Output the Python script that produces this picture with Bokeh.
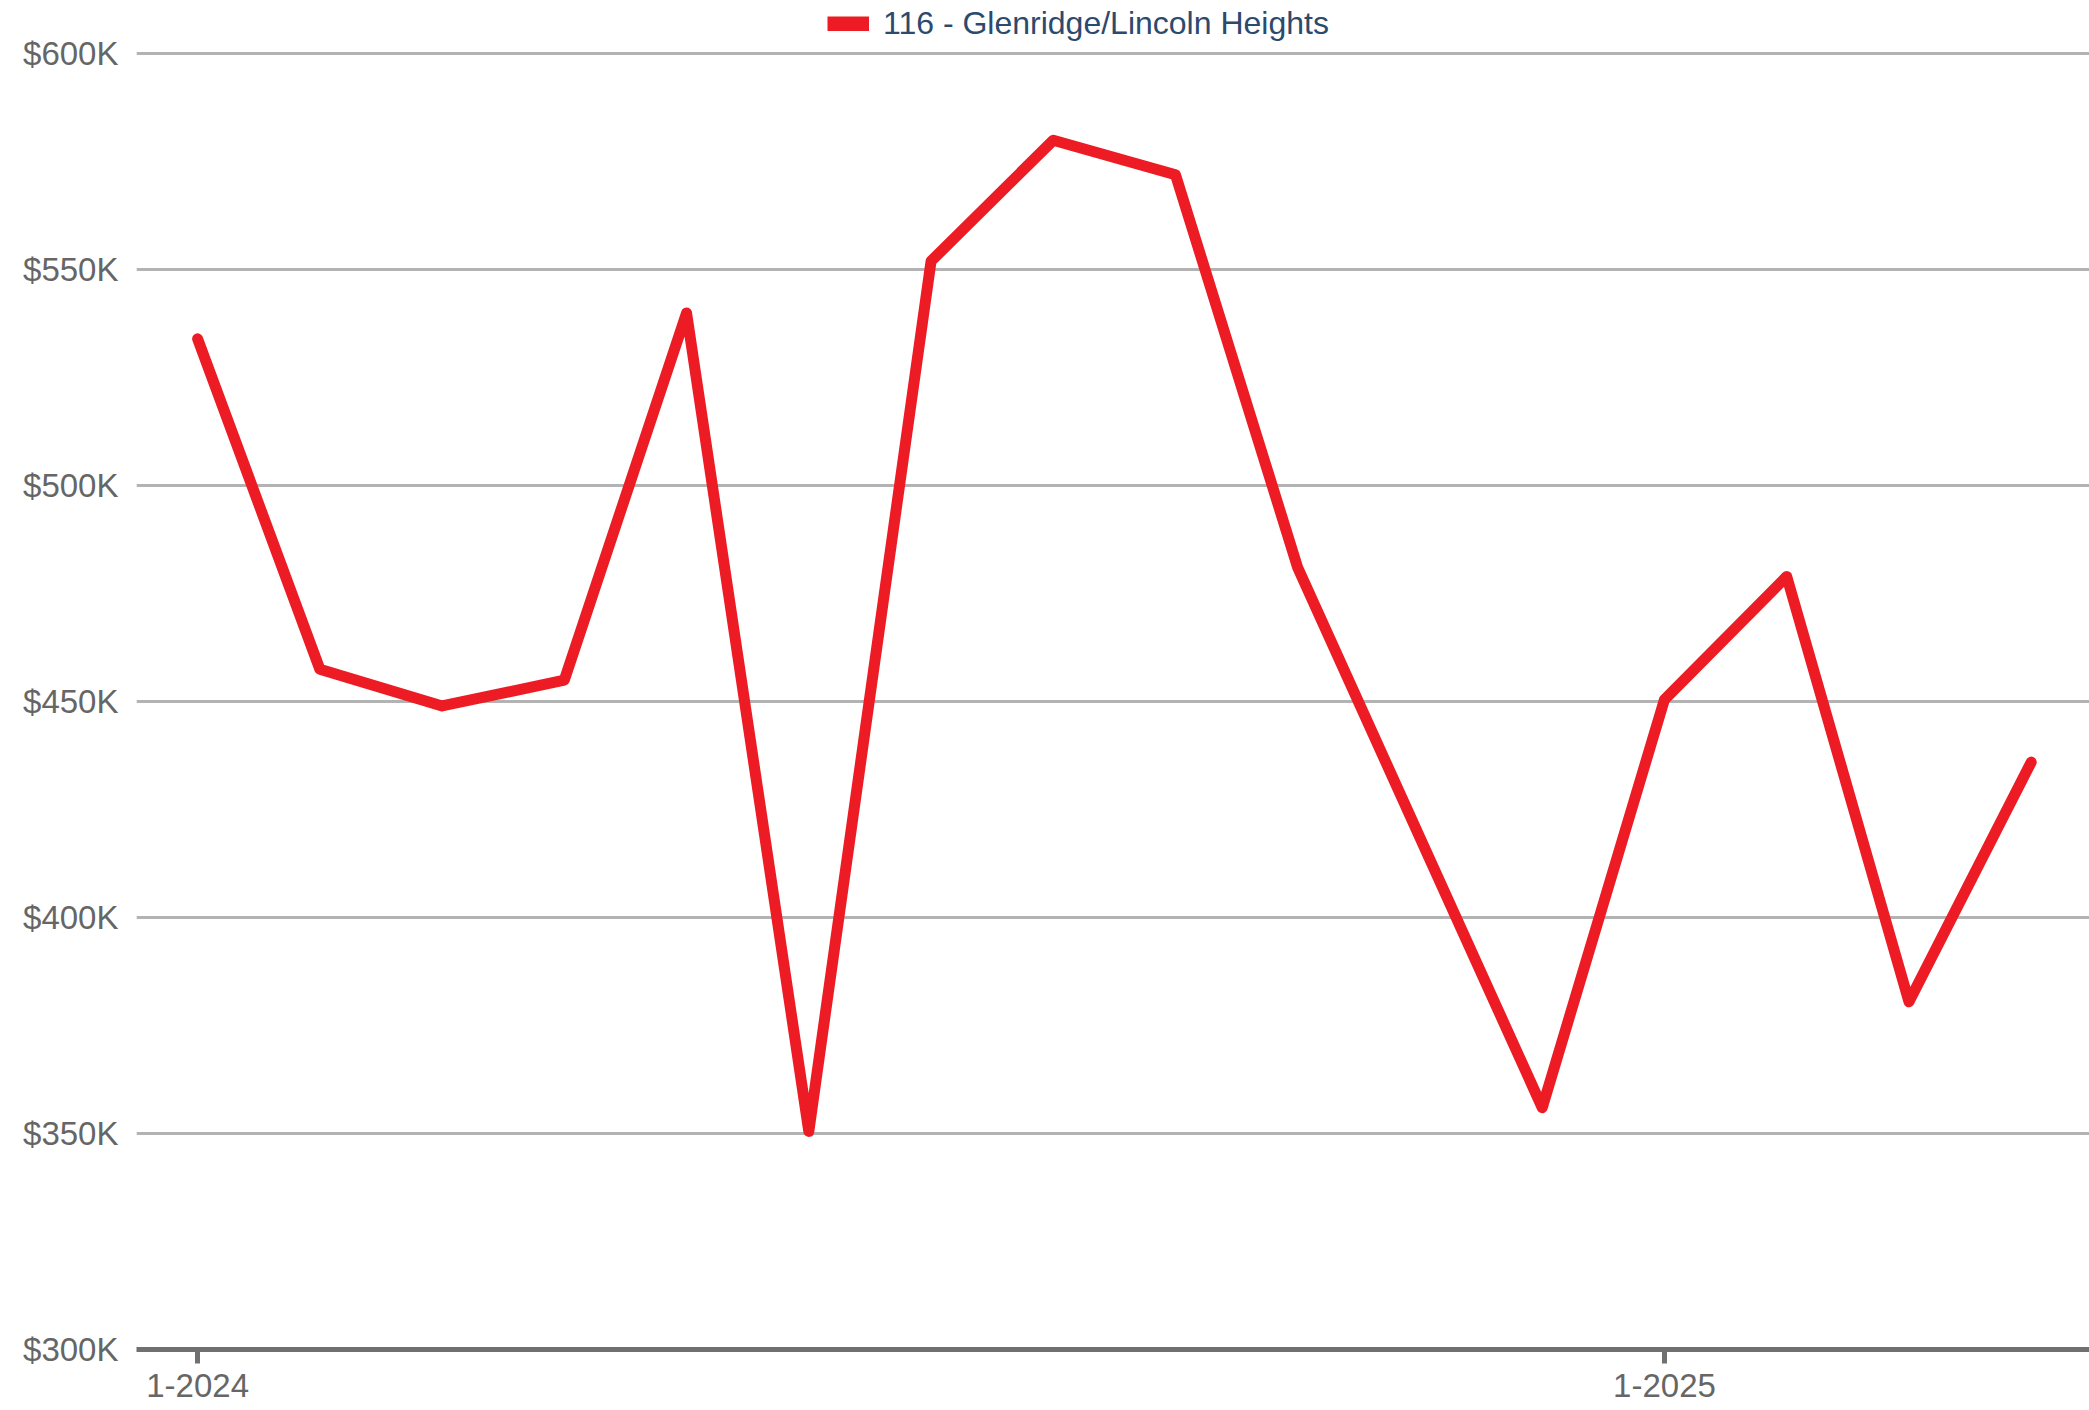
from bokeh.plotting import figure
from bokeh.models import ColumnDataSource, FixedTicker, Legend, LegendItem, Range1d, CDSView, IndexFilter
from bokeh.embed import file_html
from bokeh.resources import INLINE

# ---- data ----
months = ["1-2024", "2-2024", "3-2024", "4-2024", "5-2024", "6-2024", "7-2024", "8-2024",
          "9-2024", "10-2024", "11-2024", "12-2024", "1-2025", "2-2025", "3-2025", "4-2025"]
values = [534000, 457500, 449000, 455000, 540000, 350500, 552000, 580000,
          572000, 481000, 418500, 356000, 450500, 479000, 380500, 436000]
series_name = "116 - Glenridge/Lincoln Heights"
y_ticks = [300000, 350000, 400000, 450000, 500000, 550000, 600000]
y_tick_labels = ["$300K", "$350K", "$400K", "$450K", "$500K", "$550K", "$600K"]
x_tick_months = ["1-2024", "1-2025"]

x_idx = list(range(len(months)))
src = ColumnDataSource(dict(x=x_idx, y=values, month=months))

RED = "#ed1c24"
FONT = "Liberation Sans"

# frame reaches the top of the figure so the legend (drawn inside the frame) is not clipped
p = figure(width=2089, height=1410, output_backend="svg", toolbar_location=None,
           x_range=Range1d(-0.5, 15.477), y_range=Range1d(300000, 612350),
           min_border_left=136, min_border_right=0, min_border_top=0, min_border_bottom=61)
p.outline_line_color = None
p.background_fill_color = "white"
p.border_fill_color = "white"

line = p.line("x", "y", source=src, line_color=RED, line_width=11,
              line_join="round", line_cap="round")
# legend-only renderer (thicker swatch): a single-point line draws nothing on the plot
swatch = p.line("x", "y", source=src, view=CDSView(filter=IndexFilter([0])),
                line_color=RED, line_width=15, line_cap="butt")

# y axis
p.yaxis.ticker = FixedTicker(ticks=y_ticks)
p.yaxis.major_label_overrides = {t: l for t, l in zip(y_ticks, y_tick_labels)}
p.yaxis.axis_line_color = None
p.yaxis.major_tick_line_color = None
p.yaxis.minor_tick_line_color = None
p.yaxis.major_label_standoff = 12
p.yaxis.major_label_text_font = FONT
p.yaxis.major_label_text_font_size = "33px"
p.yaxis.major_label_text_color = "#666666"

# x axis
xt = [months.index(m) for m in x_tick_months]
p.xaxis.ticker = FixedTicker(ticks=xt)
p.xaxis.major_label_overrides = {i: months[i] for i in xt}
p.xaxis.axis_line_color = "#707070"
p.xaxis.axis_line_width = 5
p.xaxis.major_tick_line_color = "#707070"
p.xaxis.major_tick_line_width = 5
p.xaxis.major_tick_in = 0
p.xaxis.major_tick_out = 14
p.xaxis.minor_tick_line_color = None
p.xaxis.major_label_standoff = 10
p.xaxis.major_label_text_font = FONT
p.xaxis.major_label_text_font_size = "33px"
p.xaxis.major_label_text_color = "#666666"

# grid
p.xgrid.grid_line_color = None
p.ygrid.ticker = FixedTicker(ticks=y_ticks)
p.ygrid.grid_line_color = "#b3b3b3"
p.ygrid.grid_line_width = 3

legend = Legend(items=[LegendItem(label=series_name, renderers=[swatch])],
                location=(691, 1307), orientation="horizontal",
                padding=0, margin=0, spacing=0,
                border_line_color=None, background_fill_alpha=0,
                glyph_width=42, glyph_height=15, label_standoff=14,
                label_text_font=FONT, label_text_font_size="32px",
                label_text_color="#2b4a6d")
p.add_layout(legend, "center")

open("out.html", "w").write(file_html(p, INLINE))
